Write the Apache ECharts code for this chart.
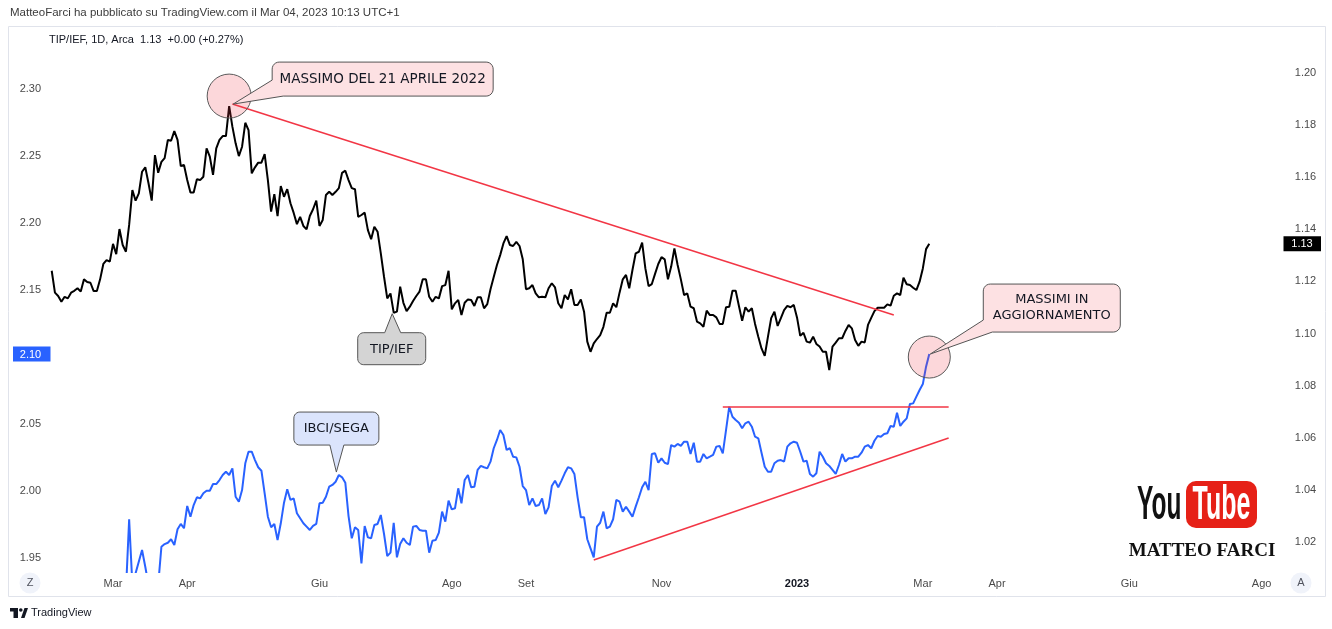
<!DOCTYPE html>
<html><head><meta charset="utf-8">
<script src="https://cdn.jsdelivr.net/npm/echarts@6/dist/echarts.min.js"></script>
<style>html,body{margin:0;padding:0;background:#fff}#c{width:1332px;height:629px}</style>
</head><body><div id="c"></div>
<script>
// ---- calendar (trading days) ----
const startDate = '2022-02-01';
const totalSlots = 383;
const holidays = ['2022-02-21','2022-04-15','2022-05-30','2022-06-20','2022-07-04','2022-09-05','2022-11-24','2022-12-26',
  '2023-01-02','2023-01-16','2023-02-20','2023-04-07','2023-05-29','2023-06-19','2023-07-04'];
const tickMonths = ['2022-03','2022-04','2022-06','2022-08','2022-09','2022-11','2023-01','2023-03','2023-04','2023-06','2023-08'];
const tickNames  = ['Mar','Apr','Giu','Ago','Set','Nov','2023','Mar','Apr','Giu','Ago'];

// ---- TIP/IEF daily closes (right scale), from 2022-02-01 ----
const tipIef = [
1.1241,1.1157,1.1144,1.1122,1.1141,1.1135,1.1157,1.1164,1.1174,1.1161,
1.1208,1.1198,1.1195,1.1163,1.1163,1.1208,1.1267,1.1282,1.1276,1.1344,
1.1305,1.1401,1.1340,1.1314,1.1417,1.1551,1.1510,1.1538,1.1621,1.1638,
1.1577,1.1510,1.1685,1.1617,1.1659,1.1673,1.1743,1.1740,1.1777,1.1743,
1.1643,1.1647,1.1589,1.1541,1.1541,1.1592,1.1589,1.1602,1.1711,1.1679,
1.1609,1.1711,1.1743,1.1758,1.1758,1.1873,1.1794,1.1730,1.1681,1.1717,
1.1809,1.1781,1.1615,1.1638,1.1656,1.1656,1.1689,1.1589,1.1468,1.1535,
1.1451,1.1566,1.1525,1.1554,1.1500,1.1463,1.1420,1.1448,1.1413,1.1400,
1.1451,1.1477,1.1510,1.1413,1.1436,1.1532,1.1544,1.1532,1.1544,1.1558,
1.1617,1.1625,1.1589,1.1558,1.1554,1.1448,1.1455,1.1464,1.1397,1.1362,
1.1410,1.1391,1.1308,1.1218,1.1135,1.1154,1.1080,1.1084,1.1180,1.1118,
1.1086,1.1103,1.1125,1.1144,1.1161,1.1208,1.1208,1.1141,1.1122,1.1141,
1.1135,1.1182,1.1186,1.1241,1.1093,1.1116,1.1129,1.1071,1.1118,1.1131,
1.1129,1.1106,1.1139,1.1139,1.1097,1.1113,1.1170,1.1217,1.1263,1.1301,
1.1346,1.1374,1.1340,1.1336,1.1352,1.1336,1.1285,1.1170,1.1174,1.1186,
1.1154,1.1139,1.1141,1.1139,1.1174,1.1193,1.1177,1.1116,1.1097,1.1148,
1.1131,1.1170,1.1110,1.1110,1.1131,1.1084,1.0969,1.0930,1.0962,1.0979,
1.0994,1.1026,1.1080,1.1080,1.1116,1.1101,1.1157,1.1208,1.1225,1.1174,
1.1244,1.1308,1.1314,1.1349,1.1250,1.1182,1.1190,1.1229,1.1267,1.1293,
1.1285,1.1208,1.1257,1.1327,1.1263,1.1208,1.1148,1.1154,1.1103,1.1097,
1.1046,1.1039,1.1026,1.1088,1.1071,1.1071,1.1062,1.1037,1.1037,1.1101,
1.1103,1.1164,1.1164,1.1106,1.1049,1.1101,1.1084,1.1097,1.1037,1.0988,
1.0943,1.0914,1.0988,1.1059,1.1084,1.1029,1.1059,1.1090,1.1106,1.1101,
1.1110,1.1062,1.0991,1.1003,1.0969,1.0965,1.0988,1.0960,1.0950,1.0930,
1.0930,1.0860,1.0950,1.0965,1.0982,1.0982,1.1010,1.1033,1.1020,1.0975,
1.0953,1.0969,1.0966,1.1033,1.1060,1.1086,1.1099,1.1099,1.1099,1.1112,
1.1107,1.1145,1.1154,1.1148,1.1214,1.1189,1.1186,1.1176,1.1167,1.1199,
1.1250,1.1324,1.1345];

// ---- IBCI/SEGA (left scale), starts at trading day #23 ----
const ibciStart = 23;
const ibciSega = [
1.925,1.9789,1.930,null,null,1.9560,1.9435,1.930,null,null,
1.930,1.9584,1.9604,1.9614,1.9640,1.9597,1.9714,1.9754,1.9722,1.9888,
1.9808,1.9895,1.9953,1.9945,1.9983,2.0002,2.0002,2.0052,2.0052,2.0082,
2.0119,2.0144,2.0119,2.0169,1.9957,1.9920,2.0007,2.0207,2.0293,2.0293,
2.0231,2.0177,2.0151,1.9983,1.9808,1.9729,1.9754,1.9634,1.9759,1.9913,
2.0013,1.9933,1.9945,1.9834,null,1.9759,1.9734,1.9709,1.9739,1.9754,
1.9908,1.9913,1.9957,2.0032,2.0045,2.0069,2.0119,2.0102,2.0062,1.9813,
1.9647,1.9729,1.9709,1.9460,1.9739,1.9654,1.9647,1.9746,1.9754,1.9821,
1.9679,1.9515,1.9540,1.9763,1.9505,1.9604,1.9647,1.9614,1.9597,1.9734,
1.9739,1.9709,1.9704,1.9704,1.9540,1.9629,1.9634,1.9689,1.9846,1.9771,
1.9928,1.9863,1.9871,2.0020,1.9908,2.0082,2.0119,2.0028,2.0032,2.0157,
2.0187,2.0177,2.0169,2.0219,2.0319,2.0381,2.0455,2.0418,2.0306,2.0319,
2.0256,2.0251,2.0181,2.0037,2.0007,1.9895,1.9945,1.9888,1.9895,1.9945,
1.9828,1.9878,2.0037,2.0077,2.0028,2.0077,2.0132,2.0177,2.0169,2.0127,
1.9953,1.9804,1.9804,1.9640,1.9572,1.9505,1.9734,1.9763,1.9846,1.9722,
1.9734,1.9789,1.9933,1.9920,1.9846,1.9883,1.9846,1.9808,1.9883,1.9953,
2.0028,2.0069,2.0007,2.0276,2.0281,2.0211,2.0244,2.0211,2.0201,2.0343,
2.0331,2.0351,2.0336,2.0368,2.0368,2.0276,2.0360,2.0219,2.0219,2.0276,
2.0244,2.0256,2.0269,2.0331,2.0336,2.0281,2.0455,2.0629,2.0554,2.0530,
2.0510,2.0468,2.0505,2.0517,2.0480,2.0405,2.0393,2.0286,2.0181,2.0144,
2.0144,2.0207,2.0226,2.0231,2.0219,2.0331,2.0356,2.0368,2.0360,2.0293,
2.0219,2.0226,2.0127,2.0107,2.0132,2.0293,2.0256,2.0207,2.0187,2.0157,
2.0127,2.0194,2.0276,2.0219,2.0244,2.0244,2.0256,2.0256,2.0286,2.0331,
2.0343,2.0319,2.0375,2.0410,2.0405,2.0425,2.0431,2.0485,2.0480,2.0584,
2.0485,2.0517,2.0542,2.0649,2.0654,2.0704,2.0754,2.0798,2.0928,2.1022];

// ---- axis ticks ----
const leftTicks  = [1.95,2.00,2.05,2.10,2.15,2.20,2.25,2.30];
const rightTicks = [1.02,1.04,1.06,1.08,1.10,1.12,1.14,1.16,1.18,1.20];

// ---- trend lines (trading-day index, value) ----
const downTrend  = [[56,1.1881],[261,1.1071]];   // TIP/IEF
const flatTop    = [[208,2.0632],[278,2.0632]];   // IBCI/SEGA
const upTrend    = [[168,1.9485],[278,2.0395]];   // IBCI/SEGA

function buildDays(){
  const out=[]; const hs=new Set(holidays);
  const d=new Date(startDate+'T00:00:00Z');
  while(out.length<totalSlots){
    const wd=d.getUTCDay(); const s=d.toISOString().slice(0,10);
    if(wd!==0&&wd!==6&&!hs.has(s)) out.push(s);
    d.setUTCDate(d.getUTCDate()+1);
  }
  return out;
}
const days = buildDays();
const tickIdx = {};
tickMonths.forEach((m,i)=>{ const k=days.findIndex(x=>x.startsWith(m)); if(k>=0) tickIdx[k]=tickNames[i]; });

const blueData = new Array(ibciStart).fill(null).concat(ibciSega);
const lastI = tipIef.length-1;

const FONT = '"Liberation Sans", Arial, sans-serif';
const AX = '#4a4a4a';
const RED = '#f23645';
const BLUE = '#2962ff';

const chart = echarts.init(document.getElementById('c'), null, {renderer:'canvas'});
const ml = (pairs) => [[{coord:[days[pairs[0][0]], pairs[0][1]]},{coord:[days[pairs[1][0]], pairs[1][1]]}]];

chart.setOption({
  animation:false,
  backgroundColor:'#ffffff',
  grid:{left:50.1, right:46.2, top:28, bottom:57},
  xAxis:{
    type:'category', data:days, boundaryGap:true,
    axisLine:{show:false}, axisTick:{show:false}, splitLine:{show:false},
    axisLabel:{
      interval:(i)=> (i in tickIdx),
      formatter:(v,i)=>{ const n=tickIdx[i]; if(n===undefined) return ''; return n==='2023'?'{b|2023}':n; },
      color:AX, fontSize:11, fontFamily:FONT, margin:6,
      rich:{b:{fontWeight:'bold', color:'#131722', fontSize:11, fontFamily:FONT}}
    }
  },
  yAxis:[
    {type:'value', position:'left', min:1.93955, max:2.34552,
     axisLine:{show:false}, axisTick:{show:false}, splitLine:{show:false},
     axisLabel:{customValues:leftTicks, formatter:(v)=>v.toFixed(2), color:AX, fontSize:11, fontFamily:FONT, margin:9}},
    {type:'value', position:'right', min:1.00848, max:1.21727,
     axisLine:{show:false}, axisTick:{show:false}, splitLine:{show:false},
     axisLabel:{customValues:rightTicks, formatter:(v)=>v.toFixed(2), color:AX, fontSize:11, fontFamily:FONT, margin:9}}
  ],
  series:[
    {name:'IBCI/SEGA', type:'line', yAxisIndex:0, data:blueData, connectNulls:true, symbol:'none',
     lineStyle:{color:BLUE, width:2}, z:3, clip:true,
     markLine:{silent:true, symbol:['none','none'], label:{show:false}, lineStyle:{color:RED, width:1.5, type:'solid'},
       data: ml(flatTop).concat(ml(upTrend))},
     markPoint:{silent:true, data:[{coord:[days[lastI], ibciSega[ibciSega.length-1]], symbol:'circle', symbolSize:42, symbolOffset:[0,3],
       itemStyle:{color:'rgba(242,54,69,0.2)', borderColor:'#5a5a5a', borderWidth:1}, label:{show:false}}]}},
    {name:'TIP/IEF', type:'line', yAxisIndex:1, data:tipIef, symbol:'none',
     lineStyle:{color:'#000000', width:2}, z:3, clip:true,
     markLine:{silent:true, symbol:['none','none'], label:{show:false}, lineStyle:{color:RED, width:1.5, type:'solid'},
       data: ml(downTrend)},
     markPoint:{silent:true, data:[{coord:[days[55], tipIef[55]], symbol:'circle', symbolSize:44, symbolOffset:[0,-10],
       itemStyle:{color:'rgba(242,54,69,0.2)', borderColor:'#5a5a5a', borderWidth:1}, label:{show:false}}]}}
  ]
});

// ---- annotations anchored to data points ----
function px(axis, i, v){ return chart.convertToPixel({xAxisIndex:0, yAxisIndex:axis}, [days[i], v]); }
function arc(pts,cx,cy,r,a0,a1){ for(let k=0;k<=6;k++){ const a=(a0+(a1-a0)*k/6)*Math.PI/180; pts.push([cx+r*Math.cos(a), cy+r*Math.sin(a)]); } }
function boxPoly(x0,y0,x1,y1,r,p){
  const pts=[];
  if(p.side==='top'){ pts.push([x0+r,y0],[p.a,y0],[p.tx,p.ty],[p.b,y0]); } else pts.push([x0+r,y0]);
  pts.push([x1-r,y0]); arc(pts,x1-r,y0+r,r,-90,0);
  arc(pts,x1-r,y1-r,r,0,90);
  if(p.side==='bottom') pts.push([p.b,y1],[p.tx,p.ty],[p.a,y1]);
  if(p.side==='bl'){ pts.push([p.bx,y1],[p.tx,p.ty],[x0,p.ay]); }
  else { arc(pts,x0+r,y1-r,r,90,180); }
  arc(pts,x0+r,y0+r,r,180,270);
  return pts;
}
const CFONT = '"DejaVu Sans", Verdana, sans-serif';
const g = [];
function addBox(pts, fill){ g.push({type:'polygon', z:50, silent:true, shape:{points:pts}, style:{fill:fill, stroke:'#555', lineWidth:1}}); }
function addText(t,x,y,font,fill,align,z){ g.push({type:'text', z:z||51, silent:true, style:{text:t, x:x, y:y, font:font, fill:fill, textAlign:align||'center', textVerticalAlign:'middle'}}); }

// Callout 1: peak of TIP/IEF
{
  const [ax, ay] = px(1, 55, tipIef[55]);
  const x0=ax+43, y0=ay-44, x1=ax+264, y1=ay-10;
  addBox(boxPoly(x0,y0,x1,y1,7,{side:'bl', bx:x0+11, ay:y0+18, tx:ax+4, ty:ay-2}), '#fde1e3');
  addText('MASSIMO DEL 21 APRILE 2022', (x0+x1)/2, (y0+y1)/2+0.5, '13.5px '+CFONT, '#131722');
}
// Callout 2: TIP/IEF label
{
  const [ax, ay] = px(1, 106, tipIef[106]);
  const x0=ax-36, y0=ay+20, x1=ax+32, y1=ay+52;
  addBox(boxPoly(x0,y0,x1,y1,6,{side:'top', a:ax-9, b:ax+7, tx:ax-1.5, ty:ay+1}), '#d4d4d4');
  addText('TIP/IEF', (x0+x1)/2, (y0+y1)/2+0.5, '13px '+CFONT, '#131722');
}
// Callout 3: IBCI/SEGA label
{
  const i=89, [ax, ay] = px(0, i, ibciSega[i-ibciStart]);
  const x0=ax-45, y0=ay-63, x1=ax+40, y1=ay-30;
  addBox(boxPoly(x0,y0,x1,y1,6,{side:'bottom', a:ax-9, b:ax+5, tx:ax-2.5, ty:ay-3}), '#dbe4fc');
  addText('IBCI/SEGA', (x0+x1)/2, (y0+y1)/2+0.5, '13px '+CFONT, '#131722');
}
// Callout 4: latest highs
{
  const [ax, ay] = px(0, lastI, ibciSega[ibciSega.length-1]);
  const x0=ax+54, y0=ay-70, x1=ax+191, y1=ay-22;
  addBox(boxPoly(x0,y0,x1,y1,7,{side:'bl', bx:x0+9, ay:y0+36, tx:ax+1, ty:ay}), '#fde1e3');
  addText('MASSIMI IN', (x0+x1)/2, y0+16, '13px '+CFONT, '#131722');
  addText('AGGIORNAMENTO', (x0+x1)/2, y0+32, '13px '+CFONT, '#131722');
}
// last-price labels on scales
{
  const [, by] = px(0, lastI, ibciSega[ibciSega.length-1]);
  g.push({type:'rect', z:60, silent:true, shape:{x:13, y:by-7.5, width:37.5, height:15}, style:{fill:BLUE}});
  addText(ibciSega[ibciSega.length-1].toFixed(2), 30.5, by+0.5, '11px '+FONT, '#ffffff', 'center', 61);
  const [, ky] = px(1, lastI, tipIef[lastI]);
  g.push({type:'rect', z:60, silent:true, shape:{x:1283.5, y:ky-7.5, width:37.5, height:15}, style:{fill:'#000000'}});
  addText(tipIef[lastI].toFixed(2), 1302, ky+0.5, '11px '+FONT, '#ffffff', 'center', 61);
}
// frame, header, legend, buttons, logos
g.push({type:'rect', z:-1, silent:true, shape:{x:8.5, y:26.5, width:1317, height:570}, style:{fill:null, stroke:'#e0e3eb', lineWidth:1}});
addText('MatteoFarci ha pubblicato su TradingView.com il Mar 04, 2023 10:13 UTC+1', 10, 13, '11.5px '+FONT, '#3b3b3b', 'left');
addText('TIP/IEF, 1D, Arca  1.13  +0.00 (+0.27%)', 49, 40, '11px '+FONT, '#131722', 'left');
g.push({type:'circle', z:5, silent:true, shape:{cx:30, cy:583, r:10.5}, style:{fill:'#f0f3fa'}});
addText('Z', 30, 583, '11px '+FONT, '#50535e');
g.push({type:'circle', z:5, silent:true, shape:{cx:1301, cy:583, r:10.5}, style:{fill:'#f0f3fa'}});
addText('A', 1301, 583, '11px '+FONT, '#50535e');
// YouTube-style badge
g.push({type:'text', z:5, silent:true, scaleX:0.51, x:1137, y:506, style:{text:'You', x:0, y:0, font:'bold 48px "Liberation Sans", sans-serif', fill:'#111', textAlign:'left', textVerticalAlign:'middle'}});
g.push({type:'rect', z:5, silent:true, shape:{x:1186, y:481, width:71, height:47, r:10}, style:{fill:'#e62117'}});
g.push({type:'text', z:6, silent:true, scaleX:0.52, x:1221.5, y:506, style:{text:'Tube', x:0, y:0, font:'bold 48px "Liberation Sans", sans-serif', fill:'#ffffff', textAlign:'center', textVerticalAlign:'middle'}});
addText('MATTEO FARCI', 1202, 551, 'bold 19px "Liberation Serif", serif', '#111', 'center');
// TradingView footer
g.push({type:'rect', z:5, silent:true, shape:{x:10, y:608, width:8, height:3.5}, style:{fill:'#131722'}});
g.push({type:'rect', z:5, silent:true, shape:{x:13.5, y:608, width:4.5, height:10}, style:{fill:'#131722'}});
g.push({type:'circle', z:5, silent:true, shape:{cx:20.8, cy:610, r:1.8}, style:{fill:'#131722'}});
g.push({type:'polygon', z:5, silent:true, shape:{points:[[21,618],[24.5,608],[28,608],[24.5,618]]}, style:{fill:'#131722'}});
addText('TradingView', 31, 613, '11px '+FONT, '#131722', 'left');

chart.setOption({graphic:{elements:g}});
</script>
</body></html>
